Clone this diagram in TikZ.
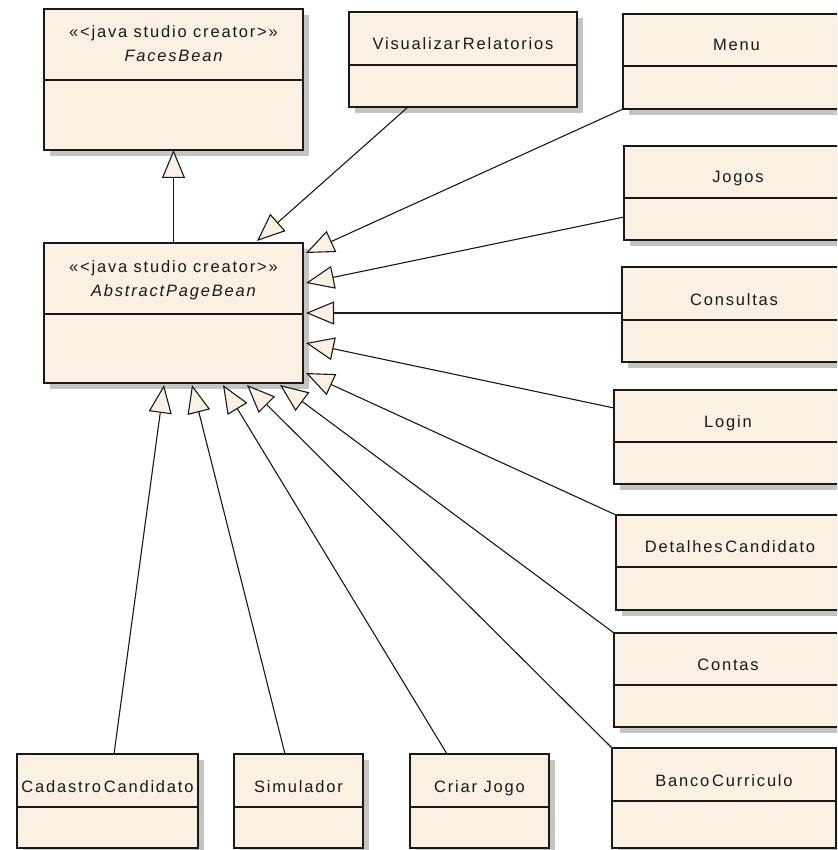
\documentclass[tikz,border=0pt]{standalone}
\usepackage{fontspec}
\setmainfont{Liberation Sans}[LetterSpace=11]
\usetikzlibrary{arrows.meta,calc}

\definecolor{classfill}{RGB}{251,241,226}
\definecolor{shadowgray}{RGB}{196,196,196}
\definecolor{inkcolor}{RGB}{25,25,25}

\tikzset{
  umlbox/.style={rectangle, draw=inkcolor, line width=1.6pt, fill=classfill,
                 inner sep=0pt, outer sep=0pt},
  shadowbox/.style={fill=shadowgray},
  divider/.style={draw=inkcolor, line width=1.4pt},
  classname/.style={font=\fontsize{16.5}{19}\selectfont, text=inkcolor,
                    inner sep=0pt, anchor=base},
  abstractname/.style={classname, font=\fontsize{16.5}{19}\selectfont\itshape},
  generalization/.style={draw=inkcolor, line width=1.1pt,
    -{Triangle[length=28pt, width=23pt, fill=classfill, line width=1.1pt]}},
}

% class box: name, left, top, right, bottom, divider y, class name
\newcommand{\umlclass}[7]{%
  \fill[shadowbox] (#2+6,#3+6) rectangle (#4+6,#5+6);
  \node[umlbox, anchor=north west, minimum width={(#4-#2)*1pt},
        minimum height={(#5-#3)*1pt}] (#1) at (#2,#3) {};
  \draw[divider] (#2,#6) -- (#4,#6);
  \node[classname] (#1-name) at ({(#2+#4)/2},#6-15) {#7};
}

% stereotyped abstract class box, same arguments
\newcommand{\umlstereoclass}[7]{%
  \fill[shadowbox] (#2+6,#3+6) rectangle (#4+6,#5+6);
  \node[umlbox, anchor=north west, minimum width={(#4-#2)*1pt},
        minimum height={(#5-#3)*1pt}] (#1) at (#2,#3) {};
  \draw[divider] (#2,#6) -- (#4,#6);
  \node[classname] (#1-stereo) at ({(#2+#4)/2},#6-42) {«<java studio creator>»};
  \node[abstractname] (#1-name) at ({(#2+#4)/2},#6-18) {#7};
}

\begin{document}
\begin{tikzpicture}[x=1pt, y=-1pt]
  \useasboundingbox (0,0) rectangle (837,850);
  \fill[white] (0,0) rectangle (837,850);
  \clip (0,0) rectangle (837,850);

  % superclasses
  \umlstereoclass{fb}{44}{9}{303}{150}{80}{FacesBean}
  \umlstereoclass{apb}{44}{243}{303}{383}{314}{AbstractPageBean}

  % top and right column
  \umlclass{vr}{349}{12}{577}{107}{65}{Visualizar\,Relatorios}
  \umlclass{menu}{623}{14}{850}{109}{66}{Menu}
  \umlclass{jogos}{624}{146}{852}{240}{198}{Jogos}
  \umlclass{cons}{622}{267}{846}{362}{320}{Consultas}
  \umlclass{login}{614}{390}{842}{484}{442}{Login}
  \umlclass{det}{616}{515}{844}{610}{567}{Detalhes\,Candidato}
  \umlclass{contas}{614}{633}{842}{727}{685}{Contas}
  \umlclass{banco}{612}{748}{836}{848}{801}{Banco\,Curriculo}

  % bottom row
  \umlclass{cad}{17}{754}{198}{848}{807}{Cadastro\,Candidato}
  \umlclass{sim}{234}{754}{363}{848}{807}{Simulador}
  \umlclass{criar}{410}{754}{549}{848}{807}{Criar Jogo}

  % generalizations
  \draw[generalization] (apb.north) -- (fb.south);
  \draw[generalization] ($(vr.south west)+(59,0)$) -- ($(apb.north west)+(213,-2)$);
  \draw[generalization] (menu.south west) -- ($(apb.north east)+(3,10)$);
  \draw[generalization] ($(jogos.south west)+(0,-23)$) -- ($(apb.north east)+(3,40)$);
  \draw[generalization] ($(cons.south west)+(0,-49)$) -- ($(apb.north east)+(3,70)$);
  \draw[generalization] ($(login.north west)+(0,18)$) -- ($(apb.north east)+(3,100)$);
  \draw[generalization] (det.north west) -- ($(apb.north east)+(3,130)$);
  \draw[generalization] (contas.north west) -- ($(apb.south west)+(236,2)$);
  \draw[generalization] (banco.north west) -- ($(apb.south west)+(203,2)$);
  \draw[generalization] ($(criar.north west)+(37,0)$) -- ($(apb.south west)+(179,2)$);
  \draw[generalization] ($(sim.north west)+(51,0)$) -- ($(apb.south west)+(148,2)$);
  \draw[generalization] ($(cad.north west)+(97,0)$) -- ($(apb.south west)+(120,2)$);
\end{tikzpicture}
\end{document}
